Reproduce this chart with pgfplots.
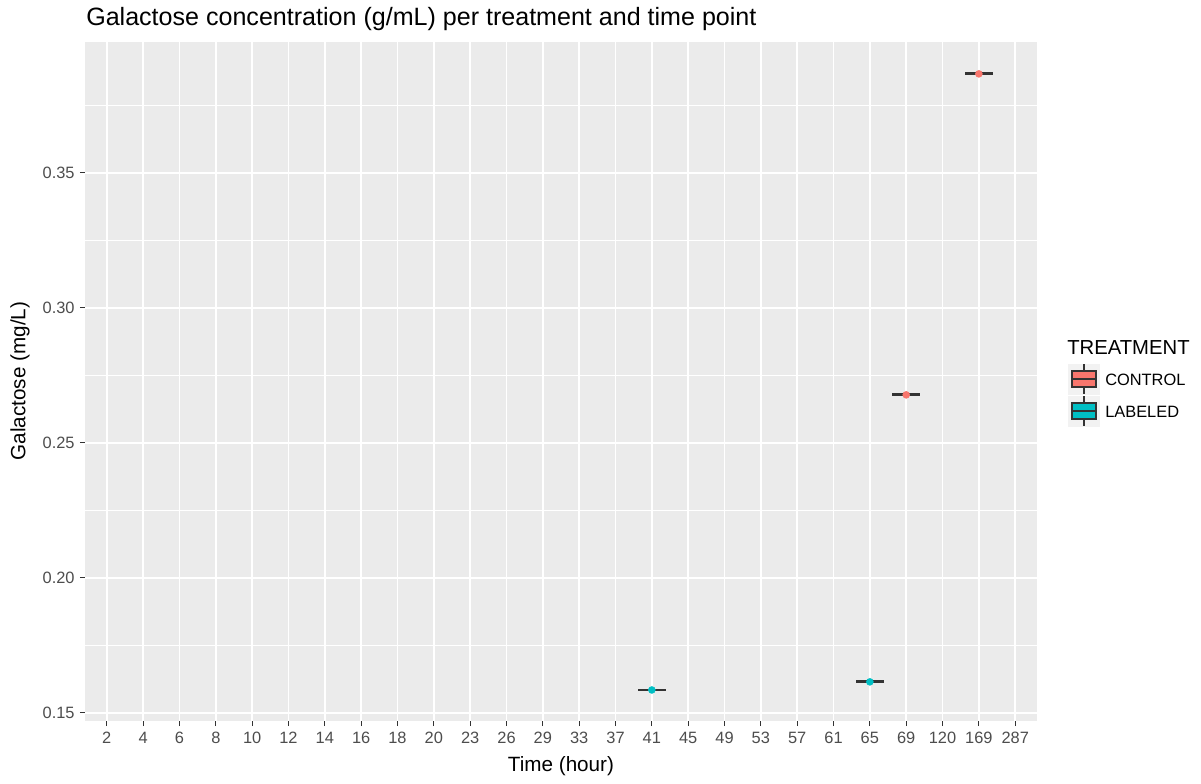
\documentclass[border=0pt]{standalone}
\usepackage{fontspec}
\setmainfont{Liberation Sans}
\usepackage{pgfplots}
\pgfplotsset{compat=1.18}

\definecolor{ggbg}{HTML}{EBEBEB}
\definecolor{ggred}{HTML}{F8766D}
\definecolor{ggcyan}{HTML}{00BFC4}
\definecolor{gray30}{HTML}{4D4D4D}
\definecolor{gray20}{HTML}{333333}
\definecolor{keybg}{HTML}{F2F2F2}

\newcommand{\tickfont}{\fontsize{12.3}{14}\selectfont}
\newcommand{\labfont}{\fontsize{15.5}{18}\selectfont}

\begin{document}
\begin{tikzpicture}
\begin{axis}[
    name=ax,
    at={(0,0)}, anchor=north west,
    scale only axis,
    width=714pt, height=509.25pt,
    xmin=-0.6, xmax=25.6,
    ymin=0.147, ymax=0.3985,
    xtick={0,...,25},
    xticklabels={2,4,6,8,10,12,14,16,18,20,23,26,29,33,37,41,45,49,53,57,61,65,69,120,169,287},
    ytick={0.15,0.20,0.25,0.30,0.35},
    yticklabels={0.15,0.20,0.25,0.30,0.35},
    minor ytick={0.175,0.225,0.275,0.325,0.375},
    axis background/.style={fill=ggbg},
    axis line style={draw=none},
    grid=both,
    major grid style={white, line width=1.1pt},
    minor grid style={white, line width=0.55pt},
    tick pos=left,
    tick align=outside,
    major tick length=3.75pt,
    minor tick length=0pt,
    tick style={gray20, line width=0.8pt},
    ticklabel style={font=\tickfont, text=gray30},
    xticklabel style={yshift=-1pt},
    yticklabel style={xshift=-0.5pt},
    /pgf/number format/assume math mode=true,
]
% degenerate boxplots (one observation each): box collapses to a line
\addplot[draw=none, mark=none,
    error bars/.cd, x dir=both, x fixed=0.385,
    error mark=none, error bar style={gray20, line width=2.2pt}]
    coordinates {(15,0.1585) (21,0.1615) (22,0.2678) (24,0.3867)};
% observations
\addplot[only marks, mark=*, mark size=2.6pt, color=ggcyan] coordinates {(15,0.1585) (21,0.1615)};
\addplot[only marks, mark=*, mark size=2.6pt, color=ggred] coordinates {(22,0.2678) (24,0.3867)};
\end{axis}

\begin{scope}[shift={(-63.75pt,31.5pt)}, x=0.75pt, y=-0.75pt]
  \node[anchor=west, inner sep=0, font=\fontsize{18.8}{22}\selectfont] at (86,19) {Galactose concentration (g/mL) per treatment and time point};
  \node[inner sep=0, font=\labfont] at (561,766) {Time (hour)};
  \node[inner sep=0, font=\labfont, rotate=90] at (20,381) {Galactose (mg/L)};
  % legend
  \node[anchor=west, inner sep=0, font=\fontsize{15.2}{18}\selectfont] at (1067,348) {TREATMENT};
  \foreach \yy/\col/\lab in {0/ggred/CONTROL, 32/ggcyan/LABELED} {
    \fill[keybg] (1068,364+\yy) rectangle (1100,395+\yy);
    \draw[gray20, line width=0.8pt] (1084,364+\yy) -- (1084,394+\yy);
    \filldraw[fill=\col, draw=gray20, line width=0.8pt] (1072,371+\yy) rectangle (1096,387+\yy);
    \draw[gray20, line width=0.8pt] (1072,379+\yy) -- (1096,379+\yy);
    \node[anchor=west, inner sep=0, font=\tickfont] at (1105,380+\yy) {\lab};
  }
  \pgfresetboundingbox
  \path[use as bounding box] (0,0) rectangle (1201,783);
\end{scope}
\end{tikzpicture}
\end{document}
